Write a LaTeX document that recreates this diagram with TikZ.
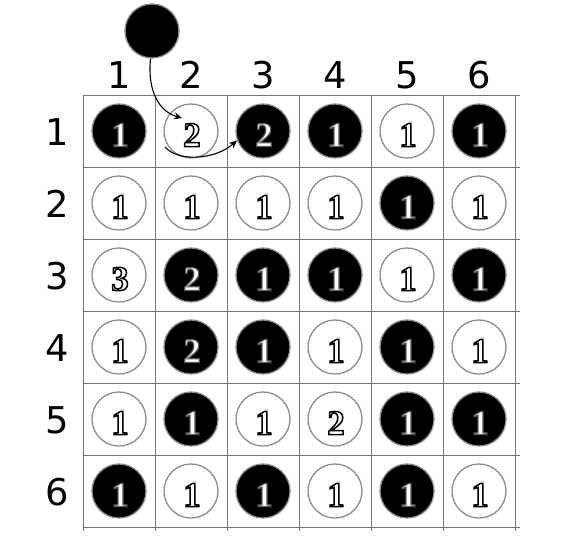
\documentclass[tikz,border=0pt]{standalone}
\usepackage{fontspec}
\setmainfont{DejaVu Sans}
\newfontfamily\digitfont{Liberation Serif}
\newcommand{\wdigit}[1]{\special{pdf:code q 2 Tr 1.5 w 0 G 1 g}#1\special{pdf:code Q}}
\newcommand{\bdigit}[1]{\special{pdf:code q 2 Tr 1.2 w 0.35 G 1 g}#1\special{pdf:code Q}}
\usetikzlibrary{arrows.meta}
\begin{document}
\begin{tikzpicture}[x=1bp,y=-1bp,
  gridline/.style={draw=black!55,line width=0.8bp},
  lbl/.style={font=\fontsize{37}{37}\selectfont,inner sep=0pt,anchor=center},
  wstone/.style={circle,draw=black!45,line width=1.3bp,fill=white,minimum size=54bp,inner sep=0pt},
  bstone/.style={circle,draw=black!45,line width=1.3bp,fill=black,minimum size=54bp,inner sep=0pt},
  num/.style={font=\digitfont\bfseries\fontsize{35}{35}\selectfont,inner sep=1bp,xshift=1bp,yshift=-4bp},
  wnum/.style={num},
  bnum/.style={num},
  conn/.style={-{Stealth[length=8bp,width=7bp]},line width=1.1bp,black}]
\useasboundingbox (0,0) rectangle (565,560);
% grid
\foreach \i in {0,...,6}{
  \draw[gridline] (83,{95+72*\i}) -- (520,{95+72*\i});
  \draw[gridline] ({83+72*\i},95) -- ({83+72*\i},531);
}
% column and row labels
\foreach \c in {1,...,6}{
  \node[lbl] (col\c) at ({83+72*\c-36},75) {\c};
  \node[lbl] (row\c) at (57,{95+72*\c-36+1}) {\c};
}
% stones: row/col/colour/number
\foreach \r/\c/\s/\n in {
 1/1/b/1,1/2/w/2,1/3/b/2,1/4/b/1,1/5/w/1,1/6/b/1,
 2/1/w/1,2/2/w/1,2/3/w/1,2/4/w/1,2/5/b/1,2/6/w/1,
 3/1/w/3,3/2/b/2,3/3/b/1,3/4/b/1,3/5/w/1,3/6/b/1,
 4/1/w/1,4/2/b/2,4/3/b/1,4/4/w/1,4/5/b/1,4/6/w/1,
 5/1/w/1,5/2/b/1,5/3/w/1,5/4/w/2,5/5/b/1,5/6/b/1,
 6/1/b/1,6/2/w/1,6/3/b/1,6/4/w/1,6/5/b/1,6/6/w/1}{
  \node[\s stone] (s\r\c) at ({83+72*\c-36},{95+72*\r-36}) {};
  \node[\s num] (n\r\c) at (s\r\c) {\csname\s digit\endcsname{\n}};
}
% the extra stone
\node[bstone] (big) at (152,31) {};
\coordinate (a1end) at (182,118);
\coordinate (a2start) at (165,147);
\draw[conn] (big.-93) .. controls (147,92) and (160,112) .. (a1end);
\draw[conn] (a2start) .. controls (178,162) and (215,160) .. (s13.200);
\end{tikzpicture}
\end{document}
